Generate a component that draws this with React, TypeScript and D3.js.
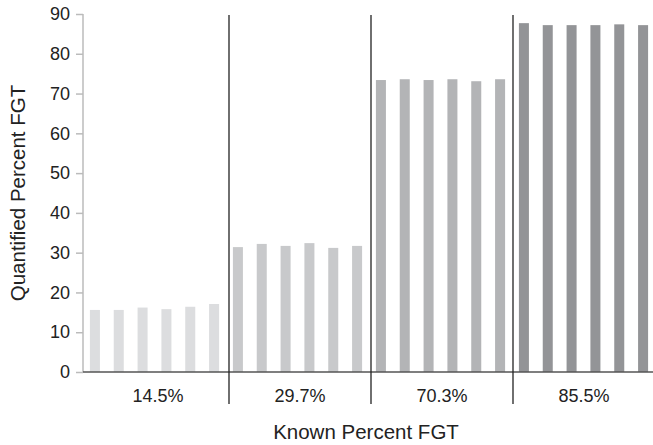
import React, { useEffect, useRef } from 'react'
import * as d3 from 'd3'

const groups = ['14.5%', '29.7%', '70.3%', '85.5%']
const groupColors = ['#dcdddf', '#c8c9cb', '#b3b4b6', '#939497']
const values = [
  [15.6, 15.6, 16.2, 15.8, 16.4, 17.1],
  [31.4, 32.2, 31.7, 32.4, 31.2, 31.7],
  [73.4, 73.6, 73.4, 73.6, 73.1, 73.6],
  [87.7, 87.2, 87.2, 87.2, 87.4, 87.2],
]
const yTicks = [0, 10, 20, 30, 40, 50, 60, 70, 80, 90]

export default function App() {
  const ref = useRef<SVGSVGElement>(null)

  useEffect(() => {
    const svg = d3.select(ref.current)
    svg.selectAll('*').remove()

    const width = 653
    const height = 445
    const left = 83
    const bottom = 372
    const font = 'Liberation Sans, Arial, sans-serif'

    // flatten bars, one band per bar
    const bars: { g: number; i: number; v: number }[] = []
    values.forEach((arr, g) => arr.forEach((v, i) => bars.push({ g, i, v })))

    const x = d3.scaleBand<number>()
      .domain(bars.map((d, k) => k))
      .range([left, 655])
      .paddingInner(0.58)
      .paddingOuter(0.29)

    const xg = d3.scaleBand<string>()
      .domain(groups)
      .range([87, 655])

    const y = d3.scaleLinear()
      .domain([0, 90])
      .range([bottom, 14])

    svg.attr('width', width).attr('height', height)

    // bars
    svg.append('g')
      .selectAll('rect')
      .data(bars)
      .enter().append('rect')
      .attr('x', (d, k) => x(k)!)
      .attr('width', x.bandwidth())
      .attr('y', d => y(d.v))
      .attr('height', d => bottom - y(d.v))
      .style('fill', d => groupColors[d.g])

    // y axis
    const yAxis = svg.append('g')
      .attr('transform', 'translate(' + left + ',0)')
      .call(d3.axisLeft(y).tickValues(yTicks).tickSize(7).tickPadding(6).tickFormat(d3.format('d')))
    yAxis.select('.domain').attr('stroke', '#bbbbbb').attr('stroke-width', 1.5)
      .attr('d', 'M0,' + y(90) + 'V' + bottom)
    yAxis.selectAll('.tick line').attr('stroke', '#bbbbbb').attr('stroke-width', 1.5)
    yAxis.selectAll('.tick text')
      .attr('fill', '#222')
      .style('font-family', font)
      .style('font-size', '18px')

    // x baseline
    svg.append('line')
      .attr('x1', left).attr('x2', width)
      .attr('y1', bottom).attr('y2', bottom)
      .attr('stroke', '#555').attr('stroke-width', 1.3)

    // group dividers
    svg.append('g')
      .selectAll('line')
      .data(groups.slice(1))
      .enter().append('line')
      .attr('x1', d => xg(d)!).attr('x2', d => xg(d)!)
      .attr('y1', 15).attr('y2', 404)
      .attr('stroke', '#222').attr('stroke-width', 1.3)

    // group labels
    svg.append('g')
      .selectAll('text')
      .data(groups)
      .enter().append('text')
      .attr('x', d => xg(d)! + xg.bandwidth() / 2)
      .attr('y', 402)
      .attr('text-anchor', 'middle')
      .attr('fill', '#222')
      .style('font-family', font)
      .style('font-size', '18px')
      .text(d => d)

    // axis titles
    svg.append('text')
      .attr('x', 366).attr('y', 439)
      .attr('text-anchor', 'middle')
      .attr('fill', '#222')
      .style('font-family', font)
      .style('font-size', '20.5px')
      .text('Known Percent FGT')

    svg.append('text')
      .attr('transform', 'translate(25,193) rotate(-90)')
      .attr('text-anchor', 'middle')
      .attr('fill', '#222')
      .style('font-family', font)
      .style('font-size', '20.5px')
      .text('Quantified Percent FGT')
  }, [])

  return (
    <div className="body">
      <svg ref={ref} style={{ position: 'absolute', left: 0, top: 0 }} />
    </div>
  )
}
